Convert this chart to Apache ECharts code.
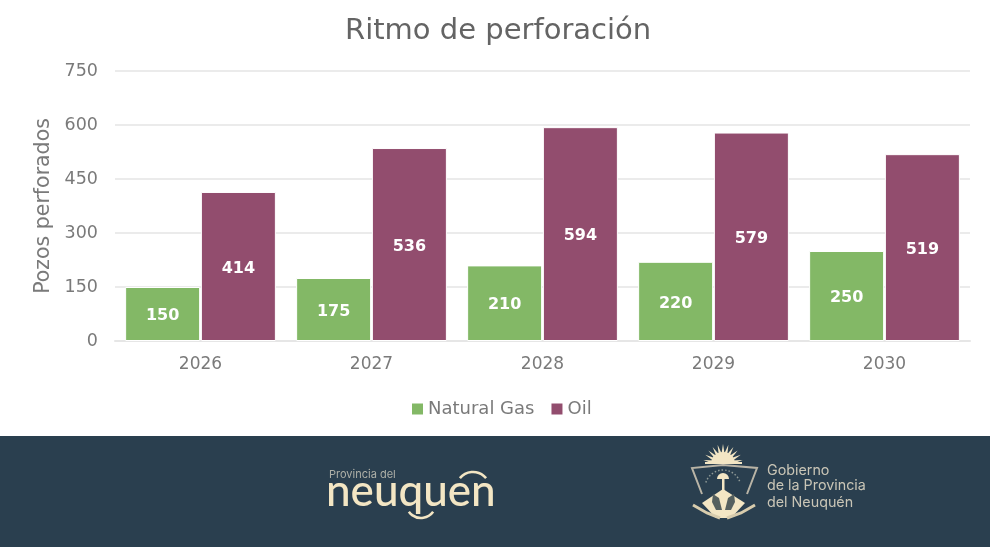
<!DOCTYPE html>
<html>
<head>
<meta charset="utf-8">
<style>
  html, body { margin: 0; padding: 0; background: #fff; }
  #chart { width: 990px; height: 547px; }
</style>
<script src="https://cdn.jsdelivr.net/npm/echarts@6/dist/echarts.min.js"></script>
</head>
<body>
<div id="chart"></div>
<script>
const years = ['2026', '2027', '2028', '2029', '2030'];
const naturalGas = [150, 175, 210, 220, 250];
const oil = [414, 536, 594, 579, 519];
const yTicks = { min: 0, max: 750, interval: 150 };

const FONT = '"DejaVu Sans", sans-serif';
const GREY = '#7a7a7a';
const CREAM = '#f3e6c4';
const SOFT = '#c9c5b6';
const BAND = '#2a3f4f';

// Sun rays above the provincial shield, fanned around its centre.
function sunRays(cx, cy, inner, outer, count) {
  const rays = [];
  for (let i = 0; i < count; i++) {
    const a = Math.PI * 1.02 + (Math.PI * 0.96 * (i + 0.5)) / count;
    const da = 0.2;
    rays.push({
      type: 'polygon',
      shape: { points: [
        [cx + inner * Math.cos(a - da), cy + inner * Math.sin(a - da)],
        [cx + outer * Math.cos(a), cy + outer * Math.sin(a)],
        [cx + inner * Math.cos(a + da), cy + inner * Math.sin(a + da)]
      ] },
      style: { fill: CREAM }
    });
  }
  return rays;
}

const footer = [
  { type: 'rect', shape: { x: 0, y: 436, width: 990, height: 111 }, style: { fill: BAND } },

  // Neuquén wordmark
  { type: 'text', style: { x: 329, y: 469, text: 'Provincia del', fill: '#aeb0a8', font: '11px Inter, sans-serif' } },
  { type: 'text', style: { x: 326, y: 470, text: 'neuquen', fill: CREAM, font: '500 44px Lato, sans-serif' } },
  { type: 'arc', shape: { cx: 473, cy: 489, r: 17, startAngle: Math.PI * 1.22, endAngle: Math.PI * 1.78 },
    style: { stroke: CREAM, lineWidth: 2.6, fill: null } },
  { type: 'arc', shape: { cx: 421, cy: 503, r: 15, startAngle: Math.PI * 0.2, endAngle: Math.PI * 0.8 },
    style: { stroke: CREAM, lineWidth: 2.6, fill: null } },

  // Provincial shield: sun
  ...sunRays(723, 464, 9, 20, 11),
  { type: 'sector', shape: { cx: 723, cy: 464, r0: 0, r: 12, startAngle: Math.PI, endAngle: Math.PI * 2 },
    style: { fill: CREAM } },
  { type: 'rect', shape: { x: 705, y: 462, width: 37, height: 2 }, style: { fill: CREAM } },
  // Shield outline and the arc of small dots inside it
  { type: 'polyline', shape: { points: [[702, 494], [692, 468], [723, 465], [757, 468], [747, 494]] },
    style: { stroke: '#b9b4a6', lineWidth: 2, fill: null } },
  { type: 'arc', shape: { cx: 723, cy: 488, r: 18, startAngle: Math.PI * 1.1, endAngle: Math.PI * 1.9 },
    style: { stroke: '#8f9a96', lineWidth: 1.5, lineDash: [1.5, 2], fill: null } },
  // Mountain, torch and leaves
  { type: 'polygon', shape: { points: [[723, 489], [745, 503], [731, 518], [716, 518], [702, 503]] }, style: { fill: CREAM } },
  { type: 'rect', shape: { x: 722, y: 477, width: 2.5, height: 16 }, style: { fill: CREAM } },
  { type: 'sector', shape: { cx: 723, cy: 479, r0: 0, r: 6, startAngle: Math.PI, endAngle: Math.PI * 2 },
    style: { fill: CREAM } },
  { type: 'polyline', shape: { points: [[693, 505], [707, 513], [720, 518]] }, style: { stroke: '#d8ccad', lineWidth: 3, fill: null } },
  { type: 'polyline', shape: { points: [[755, 505], [741, 513], [727, 518]] }, style: { stroke: '#d8ccad', lineWidth: 3, fill: null } },
  { type: 'polygon', shape: { points: [[713, 494], [719, 498], [722, 510], [716, 510], [712, 502]] }, style: { fill: '#55605f' } },
  { type: 'polygon', shape: { points: [[734, 494], [728, 498], [725, 510], [731, 510], [735, 502]] }, style: { fill: '#55605f' } },

  // Government name
  { type: 'text', style: { x: 767, y: 464, text: 'Gobierno', fill: SOFT, font: '14.3px Inter, sans-serif' } },
  { type: 'text', style: { x: 767, y: 479, text: 'de la Provincia', fill: SOFT, font: '14.3px Inter, sans-serif' } },
  { type: 'text', style: { x: 767, y: 496, text: 'del Neuquén', fill: SOFT, font: '14.3px Inter, sans-serif' } }
];

const barLabel = {
  show: true,
  position: 'inside',
  offset: [0, 2],
  color: '#fff',
  fontFamily: FONT,
  fontWeight: 700,
  fontSize: 16
};

const chart = echarts.init(document.getElementById('chart'), null, { renderer: 'canvas' });
chart.setOption({
  animation: false,
  backgroundColor: '#fff',
  textStyle: { fontFamily: FONT },
  title: {
    text: 'Ritmo de perforación',
    left: 340,
    top: 12,
    textStyle: { color: '#646464', fontFamily: FONT, fontWeight: 400, fontSize: 29 }
  },
  legend: {
    top: 395,
    left: 407,
    itemWidth: 11,
    itemHeight: 11,
    itemGap: 17,
    icon: 'rect',
    itemStyle: { borderWidth: 0 },
    textStyle: { color: GREY, fontFamily: FONT, fontSize: 18 }
  },
  grid: { left: 115, right: 20, top: 71, bottom: 206 },
  xAxis: {
    type: 'category',
    data: years,
    axisTick: { show: false },
    axisLine: { lineStyle: { color: '#e6e6e6', width: 2 } },
    axisLabel: { color: GREY, fontFamily: FONT, fontSize: 17, margin: 15 }
  },
  yAxis: {
    type: 'value',
    min: yTicks.min,
    max: yTicks.max,
    interval: yTicks.interval,
    name: 'Pozos perforados',
    nameLocation: 'middle',
    nameGap: 59,
    nameTextStyle: { color: GREY, fontFamily: FONT, fontSize: 20.5 },
    axisLine: { show: false },
    axisTick: { show: false },
    axisLabel: { color: GREY, fontFamily: FONT, fontSize: 17.5, margin: 17, padding: [2, 0, 0, 0] },
    splitLine: { lineStyle: { color: '#ebebeb', width: 2 } }
  },
  series: [
    {
      name: 'Natural Gas',
      type: 'bar',
      data: naturalGas,
      barWidth: 75,
      barGap: '1%',
      itemStyle: { color: '#83b866', borderColor: '#fff', borderWidth: 1 },
      label: barLabel
    },
    {
      name: 'Oil',
      type: 'bar',
      data: oil,
      barWidth: 75,
      itemStyle: { color: '#924d6e', borderColor: '#fff', borderWidth: 1 },
      label: barLabel
    }
  ],
  graphic: { elements: footer }
});
</script>
</body>
</html>
